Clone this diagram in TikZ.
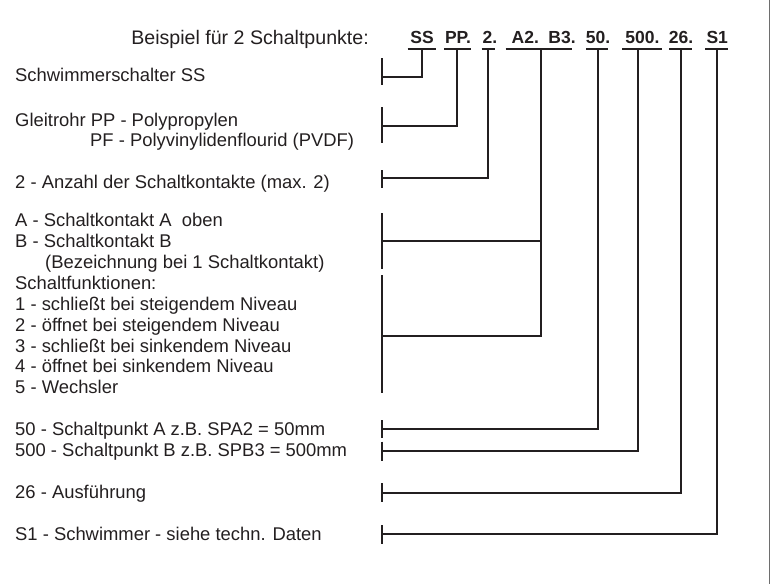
\documentclass[tikz,border=0pt]{standalone}
\usepackage{fontspec}
\setmainfont{Liberation Sans}
\definecolor{ink}{RGB}{35,31,32}
\definecolor{frame}{RGB}{110,110,110}
\begin{document}
\begin{tikzpicture}[x=1pt,y=-1pt,
  txt/.style={anchor=base west,inner sep=0pt,text=ink,font=\fontsize{18.4}{20.8}\selectfont},
  code/.style={anchor=base,inner sep=0pt,text=ink,font=\fontsize{17.5}{20}\selectfont\bfseries},
  head/.style={anchor=base east,inner sep=0pt,text=ink,font=\fontsize{19.6}{22}\selectfont},
  conn/.style={draw=ink,line width=2.3pt},
  bar/.style={draw=ink,line width=2.3pt}]
\useasboundingbox (0,0) rectangle (775,584);
\draw[frame,line width=1.2pt] (769.3,0) -- (769.3,584);
% heading
\node[head] (hd) at (369,44) {Beispiel für 2 Schaltpunkte:};
% codes
\node[code] (cSS) at (422,43.3) {SS};
\node[code] (cPP) at (458,43.3) {PP.};
\node[code] (c2) at (490,43.3) {2.};
\node[code] (cA) at (525.3,43.3) {A2.};
\node[code] (cB) at (562,43.3) {B3.};
\node[code] (c50) at (598,43.3) {50.};
\node[code] (c500) at (642.5,43.3) {500.};
\node[code] (c26) at (681,43.3) {26.};
\node[code] (cS1) at (717.2,43.3) {S1};
% underlines
\draw[conn] (407.7,49.3) coordinate (uSSl) -- (435.7,49.3);
\draw[conn] (444.3,49.3) -- (471,49.3);
\draw[conn] (481.7,49.3) -- (495,49.3);
\draw[conn] (505.7,49.3) -- (572.3,49.3);
\draw[conn] (586,49.3) -- (608.3,49.3);
\draw[conn] (622.3,49.3) -- (661.7,49.3);
\draw[conn] (669.3,49.3) -- (691.7,49.3);
\draw[conn] (705,49.3) -- (728.3,49.3);
\coordinate (uSS) at (421.7,49.3);
\coordinate (uPP) at (457.3,49.3);
\coordinate (u2) at (487.7,49.3);
\coordinate (uAB) at (540.7,49.3);
\coordinate (u50) at (597.7,49.3);
\coordinate (u500) at (638.3,49.3);
\coordinate (u26) at (681,49.3);
\coordinate (uS1) at (717.3,49.3);
% tick points
\coordinate (tSS) at (382,76.7);
\coordinate (tPP) at (382,126);
\coordinate (t2) at (382,178.3);
\coordinate (tA) at (382,240.7);
\coordinate (tF) at (382,335.7);
\coordinate (t50) at (382,429);
\coordinate (t500) at (382,450.7);
\coordinate (t26) at (382,492.7);
\coordinate (tS1) at (382,534.3);
% ticks
\draw[bar] (382,58.3) -- (382,85);
\draw[bar] (382,107.3) -- (382,143.3);
\draw[bar] (382,170) -- (382,188.3);
\draw[bar] (382,213.3) -- (382,269.3);
\draw[bar] (382,275.3) -- (382,393.3);
\draw[bar] (382,420) -- (382,438.3);
\draw[bar] (382,441.7) -- (382,460.7);
\draw[bar] (382,483.3) -- (382,502.3);
\draw[bar] (382,525) -- (382,544.3);
% connectors
\draw[conn] (tSS) -| (uSS);
\draw[conn] (tPP) -| (uPP);
\draw[conn] (t2) -| (u2);
\draw[conn] (tF) -| (uAB);
\draw[conn] (tA) -- (tA -| uAB);
\draw[conn] (t50) -| (u50);
\draw[conn] (t500) -| (u500);
\draw[conn] (t26) -| (u26);
\draw[conn] (tS1) -| (uS1);
% left texts
\node[txt] (l1) at (15,81.7) {Schwimmerschalter SS};
\node[txt] (l2) at (15,126.7) {Gleitrohr PP - Polypropylen};
\node[txt] (l3) at (90,146.7) {PF - Polyvinylidenflourid (PVDF)};
\node[txt] (l4) at (15,188.3) {2 - Anzahl der Schaltkontakte (max. 2)};
\node[txt] (l5) at (15,226.7) {A - Schaltkontakt A\ \ oben};
\node[txt] (l6) at (15,247.6) {B - Schaltkontakt B};
\node[txt] (l7) at (45,268.4) {(Bezeichnung bei 1 Schaltkontakt)};
\node[txt] (l8) at (15,289.3) {Schaltfunktionen:};
\node[txt] (l9) at (15,310.7) {1 - schließt bei steigendem Niveau};
\node[txt] (l10) at (15,331.6) {2 - öffnet bei steigendem Niveau};
\node[txt] (l11) at (15,352.1) {3 - schließt bei sinkendem Niveau};
\node[txt] (l12) at (15,372.8) {4 - öffnet bei sinkendem Niveau};
\node[txt] (l13) at (15,393.3) {5 - Wechsler};
\node[txt] (l14) at (15,435.7) {50 - Schaltpunkt A z.B. SPA2 = 50mm};
\node[txt] (l15) at (15,456.7) {500 - Schaltpunkt B z.B. SPB3 = 500mm};
\node[txt] (l16) at (15,498.3) {26 - Ausführung};
\node[txt] (l17) at (15,540) {S1 - Schwimmer - siehe techn. Daten};
\end{tikzpicture}
\end{document}
